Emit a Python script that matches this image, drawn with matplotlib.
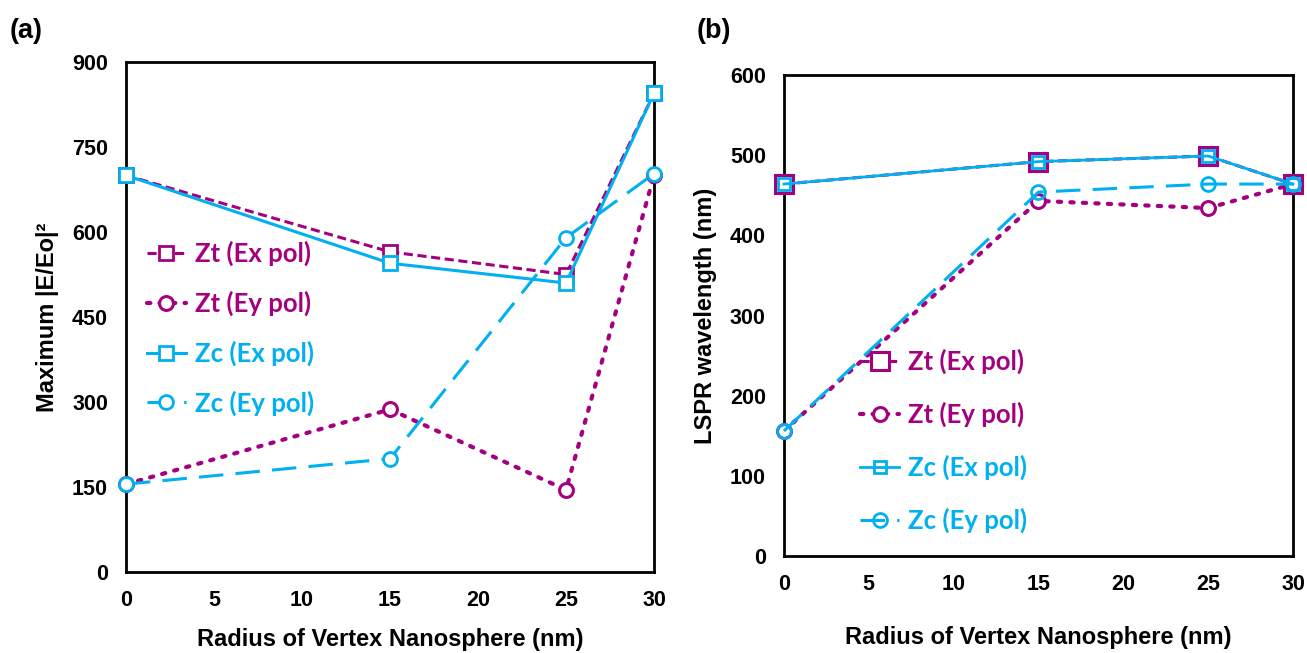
import matplotlib
matplotlib.use("Agg")
import matplotlib.pyplot as plt

radius = [0, 15, 25, 30]

# Panel (a): Maximum |E/Eo|^2
a_zt_ex = [700, 565, 525, 845]
a_zt_ey = [155, 287, 145, 700]
a_zc_ex = [700, 545, 510, 845]
a_zc_ey = [155, 200, 590, 703]

# Panel (b): LSPR wavelength (nm)
b_zt_ex = [464, 492, 499, 464]
b_zt_ey = [156, 443, 434, 464]
b_zc_ex = [464, 492, 499, 464]
b_zc_ey = [156, 454, 464, 464]

labels = ["Zt (Ex pol)", "Zt (Ey pol)", "Zc (Ex pol)", "Zc (Ey pol)"]
a_yticks = [0, 150, 300, 450, 600, 750, 900]
b_yticks = [0, 100, 200, 300, 400, 500, 600]
xticks = [0, 5, 10, 15, 20, 25, 30]

MAG = "#A5007F"
CYA = "#00B0F0"
TICKFONT = "Liberation Sans"
LEGFONT = "Lato"

fig = plt.figure(figsize=(13.07, 6.53), dpi=100)
axa = fig.add_axes([0.0964, 0.124, 0.404, 0.781])
axb = fig.add_axes([0.5998, 0.1485, 0.3895, 0.7366])

def style(ax, yticks, ylabel, xpad):
    ax.set_xlim(0, 30)
    ax.set_ylim(yticks[0], yticks[-1])
    ax.set_xticks(xticks)
    ax.set_yticks(yticks)
    ax.tick_params(length=0, pad=13)
    for lab in ax.get_xticklabels() + ax.get_yticklabels():
        lab.set_fontfamily(TICKFONT)
        lab.set_fontweight("bold")
        lab.set_fontsize(15.5)
    for sp in ax.spines.values():
        sp.set_linewidth(2)
        sp.set_color("black")
    ax.set_xlabel("Radius of Vertex Nanosphere (nm)", fontfamily=TICKFONT,
                  fontweight="bold", fontsize=17, labelpad=xpad)
    ax.set_ylabel(ylabel, fontfamily=TICKFONT, fontweight="bold", fontsize=17, labelpad=9)

# Panel (a)
l1, = axa.plot(radius, a_zt_ex, color=MAG, ls=(0, (3, 1.5)), lw=2.2, marker="s", ms=10,
               mfc="white", mec=MAG, mew=2, clip_on=False, zorder=3)
l2, = axa.plot(radius, a_zt_ey, color=MAG, ls=(0, (0.8, 2.2)), lw=3, marker="o", ms=10,
               mfc="white", mec=MAG, mew=2.2, clip_on=False, zorder=3, dash_capstyle="round")
l3, = axa.plot(radius, a_zc_ex, color=CYA, ls="-", lw=2.2, marker="s", ms=10,
               mfc="white", mec=CYA, mew=2, clip_on=False, zorder=4)
l4, = axa.plot(radius, a_zc_ey, color=CYA, ls=(0, (8, 4)), lw=2.2, marker="o", ms=10,
               mfc="white", mec=CYA, mew=2, clip_on=False, zorder=4)
style(axa, a_yticks, "Maximum |E/Eo|²", 12)
leg = axa.legend([l1, l2, l3, l4], labels, loc="upper left", bbox_to_anchor=(0.04, 0.649),
                 frameon=False, handlelength=1.5, handletextpad=0.35, labelspacing=0.95,
                 borderpad=0, borderaxespad=0,
                 prop={"family": LEGFONT, "weight": "bold", "size": 18.5})
for t, c in zip(leg.get_texts(), [MAG, MAG, CYA, CYA]):
    t.set_color(c)

# Panel (b)
m1, = axb.plot(radius, b_zt_ex, color=MAG, ls=(0, (3, 1.5)), lw=2.2, marker="s", ms=13,
               mfc="white", mec=MAG, mew=2.2, clip_on=False, zorder=3)
m2, = axb.plot(radius, b_zt_ey, color=MAG, ls=(0, (0.8, 2.2)), lw=3, marker="o", ms=10,
               mfc="white", mec=MAG, mew=2.2, clip_on=False, zorder=3, dash_capstyle="round")
m3, = axb.plot(radius, b_zc_ex, color=CYA, ls="-", lw=2.0, marker="s", ms=9,
               mfc="none", mec=CYA, mew=2, clip_on=False, zorder=4)
m4, = axb.plot(radius, b_zc_ey, color=CYA, ls=(0, (8, 4)), lw=2.2, marker="o", ms=10,
               mfc="none", mec=CYA, mew=2, clip_on=False, zorder=4)
style(axb, b_yticks, "LSPR wavelength (nm)", 22)
legb = axb.legend([m1, m2, m3, m4], labels, loc="upper left", bbox_to_anchor=(0.15, 0.431),
                  frameon=False, handlelength=1.5, handletextpad=0.35, labelspacing=1.08,
                  borderpad=0, borderaxespad=0,
                  prop={"family": LEGFONT, "weight": "bold", "size": 18.5})
for t, c in zip(legb.get_texts(), [MAG, MAG, CYA, CYA]):
    t.set_color(c)

fig.text(0.007, 0.952, "(a)", fontfamily=TICKFONT, fontweight="bold", fontsize=19.5, va="center")
fig.text(0.533, 0.952, "(b)", fontfamily=TICKFONT, fontweight="bold", fontsize=19.5, va="center")

fig.savefig("out.png", dpi=100)
